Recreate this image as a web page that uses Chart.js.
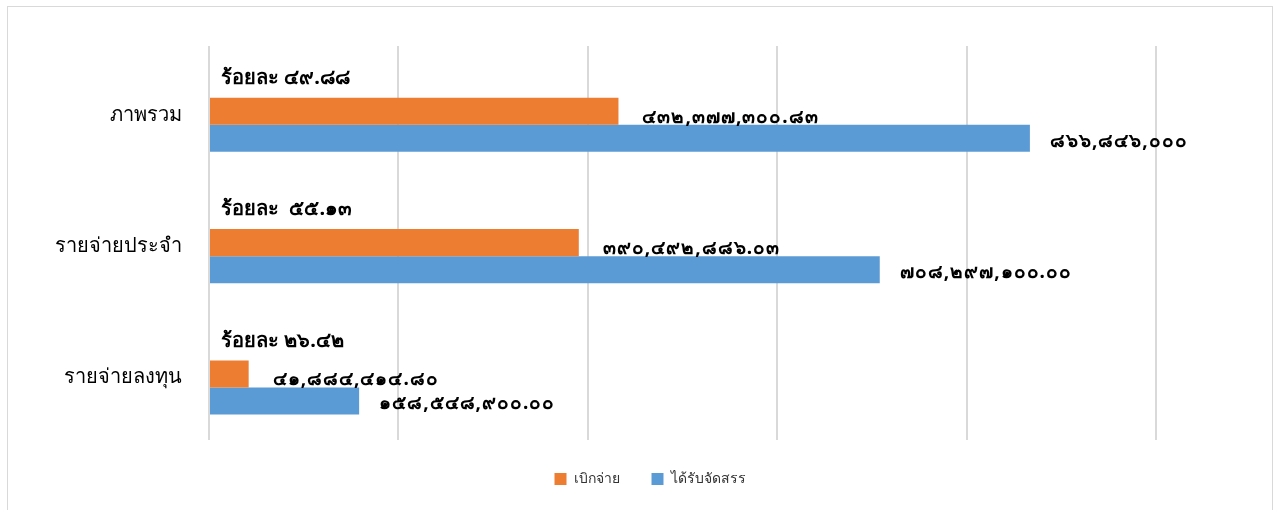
<!DOCTYPE html>
<html>
<head>
<meta charset="utf-8">
<script src="https://cdn.jsdelivr.net/npm/chart.js@4.4.1/dist/chart.umd.min.js"></script>
<style>
  body { margin: 0; background: #fff; }
  #box {
    position: absolute; left: 7px; top: 6px;
    width: 1266px; height: 510px;
    border: 1px solid #d9d9d9; box-sizing: border-box;
  }
  canvas { display: block; }
</style>
</head>
<body>
<div id="box"><canvas id="c" width="1264" height="508"></canvas></div>
<script>
// categories and series
const categories = ['ภาพรวม', 'รายจ่ายประจำ', 'รายจ่ายลงทุน'];
const seriesNames = ['เบิกจ่าย', 'ได้รับจัดสรร'];
const disbursed = [432377300.83, 390492886.03, 41884414.80];
const allocated = [866846000, 708297100.00, 158548900.00];
const disbursedDecimals = [2, 2, 2];
const allocatedDecimals = [0, 2, 2];
const percentGap = ['', ' ', ''];   // the middle label has an extra space in the original

const FONT = "'Noto Sans', 'DejaVu Sans', sans-serif";
const thaiDigits = '๐๑๒๓๔๕๖๗๘๙';

function toThai(s) {
  return s.replace(/[0-9]/g, d => thaiDigits[+d]);
}

function fmt(v, dec) {
  return toThai(v.toLocaleString('en-US', {minimumFractionDigits: dec, maximumFractionDigits: dec}));
}

const valueLabels = {
  id: 'valueLabels',
  afterDatasetsDraw(chart) {
    const ctx = chart.ctx;
    const orange = chart.getDatasetMeta(0).data;
    const blue = chart.getDatasetMeta(1).data;
    ctx.save();
    ctx.fillStyle = '#000';
    ctx.textBaseline = 'middle';
    ctx.textAlign = 'left';
    ctx.font = 'bold 19px ' + FONT;
    ctx.letterSpacing = '1px';
    orange.forEach((bar, i) => {
      ctx.fillText(fmt(disbursed[i], disbursedDecimals[i]), bar.x + 24, bar.y + 6);
    });
    blue.forEach((bar, i) => {
      ctx.fillText(fmt(allocated[i], allocatedDecimals[i]), bar.x + 20, bar.y + 3);
    });
    ctx.letterSpacing = '0px';
    ctx.font = 'bold 20px ' + FONT;
    orange.forEach((bar, i) => {
      const pct = (disbursed[i] / allocated[i] * 100).toFixed(2);
      ctx.fillText('ร้อยละ ' + percentGap[i] + toThai(pct), bar.base + 11, bar.y - 33);
    });
    ctx.restore();
  }
};

// the original legend is centred a bit right of the plot's middle
const legendShift = {
  id: 'legendShift',
  afterLayout(chart) {
    const lg = chart.legend;
    const dx = 642 - (lg.left + lg.right) / 2;
    lg.left += dx;
    lg.right += dx;
  }
};

new Chart(document.getElementById('c'), {
  type: 'bar',
  data: {
    datasets: [
      { label: seriesNames[0], data: disbursed.map((v, i) => ({x: v, y: i})), backgroundColor: '#ED7D31' },
      { label: seriesNames[1], data: allocated.map((v, i) => ({x: v, y: i})), backgroundColor: '#5B9BD5' }
    ]
  },
  options: {
    indexAxis: 'y',
    responsive: false,
    animation: false,
    devicePixelRatio: 1,
    layout: { padding: { left: 0, right: 116, top: 39, bottom: 19 } },
    datasets: { bar: { barPercentage: 1, categoryPercentage: 0.412 } },
    scales: {
      x: {
        min: 0, max: 1000000000,
        ticks: { display: false, stepSize: 200000000 },
        grid: { color: '#d9d9d9', lineWidth: 2, drawTicks: false },
        border: { display: false },
        afterFit(scale) { scale.height = 0; }
      },
      y: {
        // bars in the original sit lower than the category centres, so a numeric
        // axis with an uneven range is used instead of a category one
        type: 'linear',
        reverse: true,
        offset: false,
        min: -0.60, max: 2.40,
        afterBuildTicks(scale) { scale.ticks = categories.map((c, i) => ({value: i})); },
        grid: { display: false, drawTicks: false, offset: false },
        border: { display: false },
        ticks: {
          color: '#000', font: { family: FONT, size: 20 }, padding: 27, labelOffset: -10,
          callback: v => categories[v]
        },
        afterFit(scale) { scale.width = 201; }
      }
    },
    plugins: {
      legend: {
        position: 'bottom',
        labels: {
          color: '#333', font: { family: FONT, size: 14 },
          boxWidth: 12, boxHeight: 12, padding: 32
        }
      },
      tooltip: { enabled: false }
    }
  },
  plugins: [valueLabels, legendShift]
});
</script>
</body>
</html>
